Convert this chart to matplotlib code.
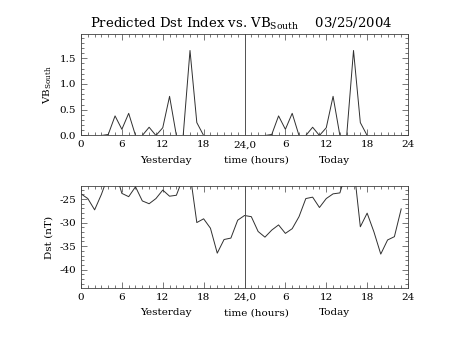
import numpy as np
import matplotlib.pyplot as plt
from matplotlib.ticker import MultipleLocator, FixedLocator

plt.rcParams['font.family'] = 'DejaVu Serif'
plt.rcParams['mathtext.fontset'] = 'dejavuserif'

# hours 0..23 of yesterday then 0..23 of today (plotted on 0..48)
hours = np.arange(48)

vb_yesterday = [0, 0, 0, 0, 0.02, 0.38, 0.12, 0.43, 0, 0, 0.16, 0, 0.15, 0.76,
                0, 0, 1.65, 0.25, 0, 0, 0, 0, 0, 0]
vb_today = [0, 0, 0, 0, 0.02, 0.38, 0.12, 0.43, 0, 0, 0.16, 0, 0.15, 0.76,
            0, 0, 1.65, 0.25, 0, 0, 0, 0, 0, 0]

dst_yesterday = [-23.9, -24.9, -27.3, -24.0, -20.0, -19.0, -23.8, -24.5, -22.4, -25.4,
                 -26.0, -24.9, -23.1, -24.4, -24.2, -20.4, -19.5, -30.0, -29.2, -31.2,
                 -36.5, -33.6, -33.3, -29.5]
dst_today = [-28.5, -28.75, -31.9, -33.1, -31.6, -30.5, -32.3, -31.3, -28.75, -24.9,
             -24.6, -26.8, -24.9, -23.9, -23.7, -19.0, -17.7, -30.9, -28.0, -32.0,
             -36.7, -33.7, -33.0, -27.1]

xtick_pos = [0, 6, 12, 18, 24, 30, 36, 42, 48]
xtick_lab = ['0', '6', '12', '18', '24,0', '6', '12', '18', '24']

fig = plt.figure(figsize=(4.53, 3.40), dpi=100)
ax1 = fig.add_axes([0.1788, 0.6015, 0.7219, 0.2985])
ax2 = fig.add_axes([0.1788, 0.153, 0.7219, 0.299])

vb = np.array(vb_yesterday + vb_today)
dst = np.array(dst_yesterday + dst_today)

ax1.plot(hours, vb, color='#303030', lw=0.7)
ax2.plot(hours, dst, color='#303030', lw=0.7)

for ax in (ax1, ax2):
    ax.axvline(24, color='#505050', lw=0.7)
    ax.set_xlim(0, 48)
    ax.xaxis.set_major_locator(FixedLocator(xtick_pos))
    ax.set_xticklabels(xtick_lab)
    ax.xaxis.set_minor_locator(MultipleLocator(1))
    ax.tick_params(which='both', direction='in', top=True, right=True,
                   labelsize=7.5, width=0.5, color='#404040')
    ax.tick_params(which='major', length=4)
    ax.tick_params(which='minor', length=2)
    for s in ax.spines.values():
        s.set_linewidth(0.6)
        s.set_color('#404040')
    ax.text(0.26, -0.2, 'Yesterday', transform=ax.transAxes, ha='center', va='top', fontsize=7.5)
    ax.text(0.537, -0.2, 'time (hours)', transform=ax.transAxes, ha='center', va='top', fontsize=7.5)
    ax.text(0.775, -0.2, 'Today', transform=ax.transAxes, ha='center', va='top', fontsize=7.5)

ax1.set_ylim(0, 1.97)
ax1.set_yticks([0, 0.5, 1.0, 1.5])
ax1.set_yticklabels(['0.0', '0.5', '1.0', '1.5'])
ax1.yaxis.set_minor_locator(MultipleLocator(0.1))
ax1.set_ylabel(r'VB$_{\rm South}$', fontsize=7.5)

ax2.set_ylim(-43.9, -22.3)
ax2.set_yticks([-40, -35, -30, -25])
ax2.set_yticklabels(['-40', '-35', '-30', '-25'])
ax2.yaxis.set_minor_locator(MultipleLocator(1))
ax2.set_ylabel('Dst (nT)', fontsize=7.5)

fig.text(0.533, 0.93, r'Predicted Dst Index vs. VB$_{\rm South}$    03/25/2004',
         ha='center', va='center', fontsize=9.5)

fig.savefig('out.png', dpi=100)
